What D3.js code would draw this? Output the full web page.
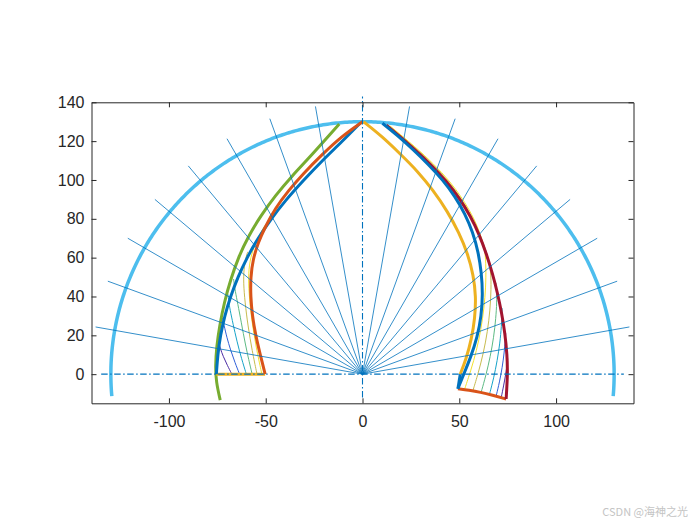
<!DOCTYPE html>
<html>
<head>
<meta charset="utf-8">
<script src="https://cdn.jsdelivr.net/npm/d3@7"></script>
<style>
  body { margin: 0; background: #fff; }
  svg { display: block; }
  .tick text { font-family: "Liberation Sans", Arial, sans-serif; font-size: 16px; fill: #262626; }
  .tick line, .domain { stroke: #262626; stroke-width: 1; }
</style>
</head>
<body>
<script>
// axis ticks
var xTicks = [-100, -50, 0, 50, 100];
var yTicks = [0, 20, 40, 60, 80, 100, 120, 140];

// outer circle and radial lines
var circleR = 130;
var circleSpan = [-5, 185];          // degrees
var rayR = 140;
var rayAngles = [10, 20, 30, 40, 50, 60, 70, 80, 100, 110, 120, 130, 140, 150, 160, 170];

// left profile
var leftGreen = [[-73.5,-13.4],[-75.6,-4],[-76,4],[-75.4,14],[-73.8,25],[-71.4,37],[-68.2,48.5],[-64.2,60],
  [-59,71],[-52.6,81.5],[-45,92],[-36.5,102],[-26.5,112.5],[-12,128.8]];
var leftBlue = [[-75.5,0],[-74.8,10],[-73.4,20],[-71.2,30],[-68.2,40],[-64.4,50],[-59.7,60],[-54.3,69.5],
  [-47.6,79.5],[-39.8,89.5],[-30.8,99.5],[-20.8,110],[-10.3,120],[-1,129.5]];
var leftOrange = [[-50.3,0],[-52.8,10],[-55.2,20],[-56.9,30],[-57.8,40],[-57.8,50],[-56.6,59],[-54,67.5],
  [-50.2,76],[-45,85.5],[-38.3,94.5],[-30.4,103.5],[-21.5,112.5],[-10.8,122.5],[0,130]];
var leftBase = [[-75.5,0],[-50.3,0]];

// right profile
var rightYellow = [[0.5,130],[10,122.5],[19.2,113.7],[28.5,104.5],[36.4,94.8],[43.8,84],[49.8,73],
  [54.4,62],[57.3,51],[58.6,40],[58.1,29],[56.3,18],[53.6,8],[50.5,0]];
var rightBlue = [[10.3,129.2],[18,123],[26,115.8],[34,108],[41.5,100],[47.8,91.5],[53,82.5],[57,73],
  [59.8,63],[61.5,52],[62.1,41],[61.4,30],[59.3,19],[56,9],[52.3,0],[49.3,-7.5]];
var rightStem = [[50.5,0],[49.3,-7.5]];
var rightRed = [[12.3,128.2],[19.5,122.2],[27.5,115.2],[35.6,107.6],[43.4,99.3],[50.2,90.5],[55.8,81.3],
  [60.3,72],[64,62],[67.1,52],[69.7,42],[71.9,31.5],[73.6,21],[74.7,10],[75,0],[74.2,-12.8]];
var rightBottom = [[49.3,-7.5],[55,-8.2],[61,-9.3],[67,-10.8],[74.2,-12.8]];

// thin intermediate profiles (purple -> yellow)
var thinColors = ["#4b2ca3", "#2f5fd8", "#17a3c8", "#5dba84", "#c7bb4e", "#f3e12c"];
var leftThin = [
  [[-67.5,0],[-69.8,4.5],[-71.9,9],[-73.6,13.5],[-74.3,17]],
  [[-63.5,0],[-65.9,6],[-68.2,12.5],[-70.1,19],[-71.6,25.5],[-72.3,29]],
  [[-60,0],[-62.5,8],[-64.9,17],[-66.9,26],[-68.4,33],[-69.2,38],[-69.4,41]],
  [[-57,0],[-59.4,10],[-61.6,21],[-63.6,32],[-65.2,40],[-66.2,45.5],[-66.6,49]],
  [[-54.5,0],[-57,12],[-59.2,25],[-60.7,37],[-61.5,47],[-61.3,54],[-60.3,60],[-59.3,63]],
  [[-52,0],[-55,14],[-57.3,28],[-58.7,42],[-59,52],[-57.8,60.5],[-55.5,67],[-52.5,73],[-50.5,76.5]]
];
var rightThin = [
  [[71.6,-12.4],[72.9,-6],[74,0],[74.7,5],[75,8]],
  [[69,-11.4],[70.8,-4],[72.2,3.5],[73.2,11],[73.8,18],[74,21]],
  [[65.6,-10.4],[67.8,-2],[69.6,7],[71,16],[71.8,25],[72.1,31],[72.1,34]],
  [[61.3,-9.3],[63.8,-0.5],[66,9],[67.8,19],[68.9,29],[69.4,37],[69.3,43],[68.9,47]],
  [[57,-8.6],[59.8,0.5],[62.5,11],[64.6,22],[65.9,33],[66.5,44],[66.3,53],[65,60],[62.6,67],
   [59.8,73.5],[56,82],[50.8,90.8],[44.1,99.8],[36.1,108.4],[26.9,117.1],[13.2,128.1]],
  [[52.7,-7.9],[56,2],[58.9,12],[61.2,23],[62.8,34],[63.7,45],[63.8,55],[63.4,63],[61.8,69.5],
   [59.3,76],[56.9,81.5],[51.6,90.6],[44.9,99.6],[36.9,108.1],[27.6,116.8],[14,128]]
];

var width = 700, height = 525;
var x = d3.scaleLinear().domain([-140, 140]).range([91.5, 633.5]);
var y = d3.scaleLinear().domain([-15, 140]).range([403.3, 102.3]);

var svg = d3.select("body").append("svg")
    .attr("width", width)
    .attr("height", height);

var line = d3.line()
    .x(function(d) { return x(d[0]); })
    .y(function(d) { return y(d[1]); });
var smooth = d3.line()
    .x(function(d) { return x(d[0]); })
    .y(function(d) { return y(d[1]); })
    .curve(d3.curveBasis);

var g = svg.append("g");

// outer circle arc
var arcPts = d3.range(circleSpan[0], circleSpan[1] + 0.01, 0.5).map(function(a) {
    var r = a * Math.PI / 180;
    return [circleR * Math.cos(r), circleR * Math.sin(r)];
});
g.append("path")
    .attr("d", line(arcPts))
    .attr("fill", "none")
    .attr("stroke", "#4DBEEE")
    .attr("stroke-width", 3.5);

// thin profiles
function drawThin(set) {
    set.forEach(function(pts, i) {
        g.append("path")
            .attr("d", smooth(pts))
            .attr("fill", "none")
            .attr("stroke", thinColors[i])
            .attr("stroke-width", 1);
    });
}
drawThin(leftThin);
drawThin(rightThin);

// thick profiles
var thick = [
    [leftGreen, "#77AC30", smooth],
    [leftBase, "#EDB120", line],
    [leftBlue, "#0072BD", smooth],
    [leftOrange, "#D95319", smooth],
    [rightYellow, "#EDB120", smooth],
    [rightBottom, "#D95319", smooth],
    [rightRed, "#A2142F", smooth],
    [rightBlue, "#0072BD", smooth],
    [rightStem, "#0072BD", line]
];
thick.forEach(function(t) {
    g.append("path")
        .attr("d", t[2](t[0]))
        .attr("fill", "none")
        .attr("stroke", t[1])
        .attr("stroke-width", 3)
        .attr("stroke-linejoin", "round");
});

// radial lines
g.selectAll(".ray")
    .data(rayAngles)
    .enter()
    .append("line")
    .attr("class", "ray")
    .attr("x1", x(0))
    .attr("y1", y(0))
    .attr("x2", function(a) { return x(rayR * Math.cos(a * Math.PI / 180)); })
    .attr("y2", function(a) { return y(rayR * Math.sin(a * Math.PI / 180)); })
    .attr("stroke", "#0072BD")
    .attr("stroke-width", 0.8);

// dash-dot centre lines
g.append("line")
    .attr("x1", x(-135)).attr("y1", y(0))
    .attr("x2", x(135)).attr("y2", y(0))
    .attr("stroke", "#0072BD").attr("stroke-width", 1.1)
    .attr("stroke-dasharray", "6.5,2.5,1.5,2.5");
g.append("line")
    .attr("x1", x(0)).attr("y1", y(-12))
    .attr("x2", x(0)).attr("y2", y(143))
    .attr("stroke", "#0072BD").attr("stroke-width", 1.1)
    .attr("stroke-dasharray", "6.5,2.5,1.5,2.5");

// axes (box with inward ticks)
var fmt = function(d) { return String(d); };
svg.append("g")
    .attr("transform", "translate(0," + y(-15) + ")")
    .call(d3.axisBottom(x).tickValues(xTicks).tickFormat(fmt).tickSizeInner(-5).tickSizeOuter(0).tickPadding(12.5));
svg.append("g")
    .attr("transform", "translate(0," + y(140) + ")")
    .call(d3.axisTop(x).tickValues(xTicks).tickSizeInner(-5).tickSizeOuter(0).tickFormat(""));
svg.append("g")
    .attr("transform", "translate(" + x(-140) + ",0)")
    .call(d3.axisLeft(y).tickValues(yTicks).tickFormat(fmt).tickSizeInner(-5).tickSizeOuter(0).tickPadding(7));
svg.append("g")
    .attr("transform", "translate(" + x(140) + ",0)")
    .call(d3.axisRight(y).tickValues(yTicks).tickSizeInner(-5).tickSizeOuter(0).tickFormat(""));

// watermark
svg.append("text")
    .attr("x", 688)
    .attr("y", 516)
    .attr("text-anchor", "end")
    .attr("font-family", "'Noto Sans CJK SC', 'Noto Sans', sans-serif")
    .attr("font-size", 11)
    .attr("fill", "#c4c4c4")
    .text("CSDN @海神之光");
</script>
</body>
</html>
